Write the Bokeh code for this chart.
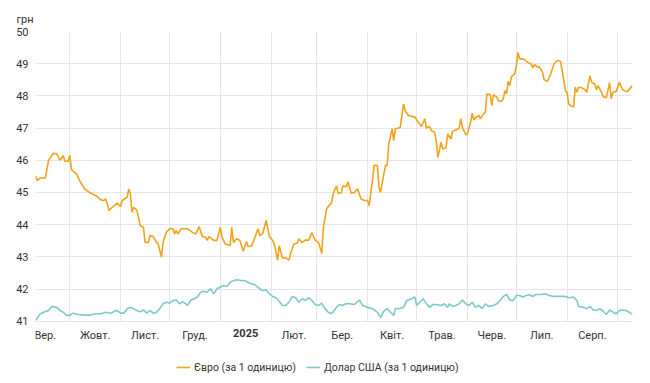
import pandas as pd
from bokeh.plotting import figure
from bokeh.models import Range1d, FixedTicker, Legend, LegendItem, LinearAxis
from bokeh.embed import file_html
from bokeh.resources import INLINE

# ---------------- data ----------------
eur_dates = [
    "2024-09-10", "2024-09-11", "2024-09-13", "2024-09-16", "2024-09-18", "2024-09-21", "2024-09-23",
    "2024-09-25", "2024-09-27", "2024-09-28", "2024-09-30", "2024-10-01", "2024-10-02", "2024-10-05",
    "2024-10-07", "2024-10-10", "2024-10-13", "2024-10-17", "2024-10-20", "2024-10-22", "2024-10-23",
    "2024-10-25", "2024-10-27", "2024-10-30", "2024-11-01", "2024-11-02", "2024-11-05", "2024-11-06",
    "2024-11-07", "2024-11-08", "2024-11-09", "2024-11-11", "2024-11-13", "2024-11-15", "2024-11-16",
    "2024-11-18", "2024-11-19", "2024-11-21", "2024-11-23", "2024-11-24", "2024-11-26", "2024-11-27",
    "2024-11-29", "2024-12-01", "2024-12-03", "2024-12-04", "2024-12-05", "2024-12-06", "2024-12-08",
    "2024-12-12", "2024-12-15", "2024-12-17", "2024-12-19", "2024-12-21", "2024-12-23", "2024-12-24",
    "2024-12-25", "2024-12-28", "2024-12-30", "2025-01-01", "2025-01-02", "2025-01-04", "2025-01-07",
    "2025-01-08", "2025-01-09", "2025-01-11", "2025-01-13", "2025-01-15", "2025-01-17", "2025-01-18",
    "2025-01-20", "2025-01-22", "2025-01-24", "2025-01-25", "2025-01-27", "2025-01-29", "2025-01-31",
    "2025-02-02", "2025-02-03", "2025-02-05", "2025-02-06", "2025-02-08", "2025-02-10", "2025-02-12",
    "2025-02-13", "2025-02-15", "2025-02-17", "2025-02-18", "2025-02-20", "2025-02-22", "2025-02-24",
    "2025-02-26", "2025-02-28", "2025-03-02", "2025-03-04", "2025-03-05", "2025-03-07", "2025-03-08",
    "2025-03-10", "2025-03-11", "2025-03-13", "2025-03-14", "2025-03-16", "2025-03-17", "2025-03-19",
    "2025-03-20", "2025-03-22", "2025-03-24", "2025-03-26", "2025-03-28", "2025-03-30", "2025-04-01",
    "2025-04-02", "2025-04-04", "2025-04-05", "2025-04-07", "2025-04-08", "2025-04-09", "2025-04-11",
    "2025-04-12", "2025-04-13", "2025-04-14", "2025-04-16", "2025-04-17", "2025-04-18", "2025-04-20",
    "2025-04-21", "2025-04-23", "2025-04-24", "2025-04-26", "2025-04-30", "2025-05-02", "2025-05-04",
    "2025-05-06", "2025-05-07", "2025-05-09", "2025-05-10", "2025-05-12", "2025-05-13", "2025-05-14",
    "2025-05-16", "2025-05-17", "2025-05-19", "2025-05-20", "2025-05-22", "2025-05-23", "2025-05-25",
    "2025-05-27", "2025-05-28", "2025-05-29", "2025-05-31", "2025-06-01", "2025-06-03", "2025-06-04",
    "2025-06-05", "2025-06-06", "2025-06-08", "2025-06-09", "2025-06-11", "2025-06-12", "2025-06-13",
    "2025-06-15", "2025-06-16", "2025-06-17", "2025-06-19", "2025-06-20", "2025-06-22", "2025-06-23",
    "2025-06-24", "2025-06-25", "2025-06-26", "2025-06-27", "2025-06-28", "2025-06-30", "2025-07-01",
    "2025-07-02", "2025-07-03", "2025-07-04", "2025-07-06", "2025-07-08", "2025-07-10", "2025-07-11",
    "2025-07-12", "2025-07-14", "2025-07-15", "2025-07-17", "2025-07-18", "2025-07-20", "2025-07-22",
    "2025-07-24", "2025-07-26", "2025-07-28", "2025-07-29", "2025-07-31", "2025-08-01", "2025-08-02",
    "2025-08-03", "2025-08-05", "2025-08-06", "2025-08-07", "2025-08-08", "2025-08-10", "2025-08-12",
    "2025-08-13", "2025-08-15", "2025-08-16", "2025-08-18", "2025-08-19", "2025-08-20", "2025-08-22",
    "2025-08-23", "2025-08-25", "2025-08-27", "2025-08-28", "2025-08-29", "2025-08-31", "2025-09-02",
    "2025-09-04", "2025-09-06", "2025-09-07", "2025-09-10",
]
eur_values = [
    45.52, 45.37, 45.45, 45.45, 46.00, 46.22, 46.20,
    46.00, 46.15, 45.97, 45.97, 46.15, 45.70, 45.58,
    45.37, 45.11, 45.00, 44.90, 44.77, 44.75, 44.80,
    44.44, 44.54, 44.67, 44.56, 44.75, 44.85, 45.11,
    44.96, 44.39, 44.54, 44.45, 43.97, 43.92, 43.45,
    43.45, 43.66, 43.63, 43.45, 43.40, 42.99, 43.45,
    43.76, 43.87, 43.87, 43.71, 43.82, 43.71, 43.87,
    43.87, 43.76, 43.71, 43.94, 43.63, 43.61, 43.51,
    43.63, 43.51, 43.51, 43.92, 43.61, 43.40, 43.35,
    43.92, 43.45, 43.56, 43.51, 43.17, 43.48, 43.32,
    43.33, 43.58, 43.87, 43.66, 43.73, 44.13, 43.63,
    43.51, 43.40, 42.89, 43.35, 42.96, 42.97, 42.90,
    43.11, 43.40, 43.43, 43.56, 43.45, 43.52, 43.52,
    43.75, 43.51, 43.45, 43.10, 43.90, 44.50, 44.56,
    44.68, 44.96, 45.20, 44.98, 44.99, 45.21, 45.18,
    45.33, 44.98, 45.00, 45.11, 44.80, 44.75, 44.75,
    44.59, 45.37, 45.84, 45.84, 45.16, 45.00, 45.58,
    45.84, 45.84, 46.51, 46.98, 46.61, 46.98, 47.00,
    47.02, 47.75, 47.54, 47.39, 47.34, 47.18, 47.05,
    47.29, 47.00, 47.05, 46.92, 46.87, 46.61, 46.09,
    46.56, 46.35, 46.39, 46.82, 46.66, 46.90, 46.94,
    47.00, 47.29, 47.02, 46.80, 46.80, 47.18, 47.46,
    47.25, 47.32, 47.39, 47.29, 47.44, 47.49, 48.06,
    48.04, 47.70, 48.04, 47.96, 47.85, 47.83, 47.91,
    48.16, 48.06, 48.45, 48.32, 48.60, 48.68, 48.94,
    49.35, 49.15, 49.15, 49.13, 49.04, 48.99, 48.87,
    48.97, 48.89, 48.91, 48.73, 48.50, 48.45, 48.68,
    48.99, 49.10, 49.07, 48.79, 48.16, 48.11, 47.75,
    47.70, 47.65, 48.27, 48.11, 48.27, 48.25, 48.19,
    48.11, 48.63, 48.42, 48.37, 48.19, 48.32, 48.11,
    47.98, 47.94, 48.42, 47.91, 48.11, 48.14, 48.42,
    48.19, 48.14, 48.14, 48.32,
]

usd_dates = [
    "2024-09-10", "2024-09-13", "2024-09-15", "2024-09-18", "2024-09-20", "2024-09-23", "2024-09-25",
    "2024-09-27", "2024-09-29", "2024-10-01", "2024-10-03", "2024-10-06", "2024-10-09", "2024-10-13",
    "2024-10-17", "2024-10-20", "2024-10-23", "2024-10-26", "2024-10-28", "2024-10-30", "2024-11-01",
    "2024-11-03", "2024-11-05", "2024-11-07", "2024-11-09", "2024-11-11", "2024-11-13", "2024-11-15",
    "2024-11-17", "2024-11-19", "2024-11-21", "2024-11-23", "2024-11-25", "2024-11-27", "2024-11-29",
    "2024-12-01", "2024-12-03", "2024-12-05", "2024-12-07", "2024-12-09", "2024-12-12", "2024-12-14",
    "2024-12-16", "2024-12-18", "2024-12-20", "2024-12-22", "2024-12-24", "2024-12-26", "2024-12-28",
    "2024-12-30", "2025-01-01", "2025-01-03", "2025-01-05", "2025-01-07", "2025-01-09", "2025-01-11",
    "2025-01-13", "2025-01-16", "2025-01-19", "2025-01-22", "2025-01-25", "2025-01-27", "2025-01-29",
    "2025-01-31", "2025-02-02", "2025-02-04", "2025-02-06", "2025-02-08", "2025-02-10", "2025-02-12",
    "2025-02-14", "2025-02-16", "2025-02-18", "2025-02-20", "2025-02-22", "2025-02-24", "2025-02-26",
    "2025-02-28", "2025-03-02", "2025-03-04", "2025-03-06", "2025-03-08", "2025-03-10", "2025-03-13",
    "2025-03-15", "2025-03-17", "2025-03-19", "2025-03-21", "2025-03-24", "2025-03-27", "2025-03-29",
    "2025-04-01", "2025-04-04", "2025-04-07", "2025-04-09", "2025-04-11", "2025-04-13", "2025-04-15",
    "2025-04-17", "2025-04-18", "2025-04-21", "2025-04-23", "2025-04-25", "2025-04-28", "2025-04-30",
    "2025-05-01", "2025-05-03", "2025-05-05", "2025-05-07", "2025-05-09", "2025-05-11", "2025-05-13",
    "2025-05-16", "2025-05-18", "2025-05-20", "2025-05-21", "2025-05-23", "2025-05-25", "2025-05-27",
    "2025-05-29", "2025-05-31", "2025-06-02", "2025-06-04", "2025-06-06", "2025-06-08", "2025-06-10",
    "2025-06-12", "2025-06-14", "2025-06-17", "2025-06-19", "2025-06-21", "2025-06-23", "2025-06-25",
    "2025-06-27", "2025-06-29", "2025-07-01", "2025-07-03", "2025-07-05", "2025-07-07", "2025-07-09",
    "2025-07-11", "2025-07-13", "2025-07-16", "2025-07-19", "2025-07-21", "2025-07-24", "2025-07-28",
    "2025-07-31", "2025-08-02", "2025-08-05", "2025-08-07", "2025-08-08", "2025-08-11", "2025-08-13",
    "2025-08-15", "2025-08-17", "2025-08-19", "2025-08-21", "2025-08-23", "2025-08-25", "2025-08-27",
    "2025-08-29", "2025-08-31", "2025-09-02", "2025-09-04", "2025-09-06", "2025-09-08", "2025-09-10",
]
usd_values = [
    41.02, 41.23, 41.28, 41.33, 41.46, 41.43, 41.33,
    41.28, 41.18, 41.18, 41.25, 41.21, 41.19, 41.19,
    41.23, 41.23, 41.28, 41.25, 41.30, 41.33, 41.25,
    41.25, 41.39, 41.43, 41.39, 41.33, 41.29, 41.35,
    41.25, 41.33, 41.25, 41.28, 41.39, 41.54, 41.59,
    41.56, 41.64, 41.66, 41.54, 41.61, 41.49, 41.66,
    41.70, 41.75, 41.90, 41.93, 41.90, 42.01, 41.85,
    42.01, 42.06, 42.11, 42.08, 42.21, 42.26, 42.29,
    42.27, 42.26, 42.18, 42.14, 42.01, 41.95, 41.98,
    41.85, 41.77, 41.73, 41.62, 41.49, 41.49, 41.59,
    41.77, 41.73, 41.59, 41.70, 41.64, 41.73, 41.64,
    41.52, 41.49, 41.56, 41.39, 41.28, 41.23, 41.43,
    41.52, 41.49, 41.55, 41.54, 41.52, 41.66, 41.49,
    41.43, 41.39, 41.28, 41.11, 41.31, 41.39, 41.28,
    41.18, 41.39, 41.40, 41.43, 41.64, 41.70, 41.75,
    41.49, 41.59, 41.70, 41.54, 41.43, 41.52, 41.52,
    41.49, 41.54, 41.43, 41.54, 41.46, 41.49, 41.54,
    41.66, 41.54, 41.49, 41.59, 41.43, 41.49, 41.39,
    41.54, 41.46, 41.49, 41.54, 41.64, 41.77, 41.83,
    41.66, 41.64, 41.80, 41.80, 41.75, 41.80, 41.82,
    41.77, 41.83, 41.83, 41.85, 41.80, 41.77, 41.77,
    41.77, 41.73, 41.75, 41.64, 41.46, 41.43, 41.39,
    41.46, 41.35, 41.33, 41.39, 41.31, 41.21, 41.35,
    41.28, 41.23, 41.33, 41.35, 41.33, 41.28, 41.21,
]

month_starts = [
    "2024-09-01", "2024-10-01", "2024-11-01", "2024-12-01", "2025-01-01", "2025-02-01", "2025-03-01",
    "2025-04-01", "2025-05-01", "2025-06-01", "2025-07-01", "2025-08-01", "2025-09-01",
]
month_labels = ["Вер.", "Жовт.", "Лист.", "Груд.", "2025", "Лют.", "Бер.", "Квіт.", "Трав.", "Черв.", "Лип.", "Серп."]
year_label = "2025"
y_ticks = [41, 42, 43, 44, 45, 46, 47, 48, 49, 50]
y_unit = "грн"
eur_name = "Євро (за 1 одиницю)"
usd_name = "Долар США (за 1 одиницю)"

# ---------------- helpers ----------------
def ms(d):
    return int(pd.Timestamp(d).value // 1_000_000)

EUR_COLOR = "#F2A31B"
USD_COLOR = "#80C8C6"
TEXT = "#333333"
GRID = "#E6E6E6"
FONT = "Roboto"
FS = "11px"
LEG_FS = "10.5px"

W, H = 650, 383
TOP, LEFT, RIGHT = 31, 35, 18
PX_PER_UNIT = 32.19           # vertical scale of the value axis
frame_h = H - TOP             # frame reaches the bottom so the legend can sit inside it
y_low = y_ticks[-1] - frame_h / PX_PER_UNIT

x_start = ms(eur_dates[0])
x_end = ms(eur_dates[-1])

p = figure(
    width=W, height=H,
    output_backend="svg", toolbar_location=None,
    x_range=Range1d(x_start, x_end), y_range=Range1d(y_low, y_ticks[-1]),
    min_border_left=LEFT, min_border_right=RIGHT, min_border_top=TOP, min_border_bottom=0,
)
p.background_fill_color = "white"
p.border_fill_color = "white"
p.outline_line_color = None

# unit label as the title (top-left, above the 50 tick label)
p.title.text = y_unit
p.title.align = "left"
p.title.offset = -19
p.title.standoff = 11
p.title.text_font = FONT
p.title.text_font_size = FS
p.title.text_font_style = "normal"
p.title.text_color = TEXT

starts_ms = [ms(d) for d in month_starts]

# grids (limited to the value band 41..50)
p.ygrid.ticker = FixedTicker(ticks=y_ticks)
p.ygrid.grid_line_color = GRID
p.xgrid.ticker = FixedTicker(ticks=starts_ms[1:])
p.xgrid.grid_line_color = GRID
try:
    p.xgrid.cross_bounds = (y_ticks[0], y_ticks[-1])
except Exception:
    p.xgrid.visible = False
    p.segment(x0=starts_ms[1:], x1=starts_ms[1:],
              y0=[y_ticks[0]] * len(starts_ms[1:]), y1=[y_ticks[-1]] * len(starts_ms[1:]),
              line_color=GRID, line_width=1, level="underlay")

eur_x = [ms(d) for d in eur_dates]
usd_x = [ms(d) for d in usd_dates]
r_eur = p.line(eur_x, eur_values, line_color=EUR_COLOR, line_width=1.6)
r_usd = p.line(usd_x, usd_values, line_color=USD_COLOR, line_width=1.6)

def style_axis(ax, standoff):
    ax.axis_line_color = None
    ax.major_tick_line_color = None
    ax.minor_tick_line_color = None
    ax.major_tick_in = 0
    ax.major_tick_out = 0
    ax.minor_tick_in = 0
    ax.minor_tick_out = 0
    ax.major_label_standoff = standoff
    ax.major_label_text_font = FONT
    ax.major_label_text_font_size = FS
    ax.major_label_text_color = TEXT

# x axis: month labels centred in each month, placed on the 41 line
mids = [(starts_ms[i] + starts_ms[i + 1]) // 2 for i in range(len(month_labels))]
xa = p.xaxis[0]
xa.ticker = FixedTicker(ticks=mids)
xa.major_label_overrides = {m: ("" if lab == year_label else lab) for m, lab in zip(mids, month_labels)}
xa.fixed_location = y_ticks[0]
style_axis(xa, 8)

# second x axis carrying only the bold year label, on the same row
year_mid = [m for m, lab in zip(mids, month_labels) if lab == year_label]
xb = LinearAxis(ticker=FixedTicker(ticks=year_mid),
                major_label_overrides={year_mid[0]: year_label},
                fixed_location=y_ticks[0])
style_axis(xb, 8)
xb.major_label_text_font_style = "bold"
p.add_layout(xb, "below")

ya = p.yaxis[0]
ya.ticker = FixedTicker(ticks=y_ticks)
style_axis(ya, 7)

legend = Legend(items=[LegendItem(label=eur_name, renderers=[r_eur]),
                       LegendItem(label=usd_name, renderers=[r_usd])],
                orientation="horizontal", location=(141, 9),
                border_line_color=None, background_fill_alpha=0,
                label_text_font=FONT, label_text_font_size=LEG_FS, label_text_color=TEXT,
                glyph_width=14, glyph_height=14, label_standoff=4, spacing=10,
                padding=0, margin=0)
p.add_layout(legend, "center")

open("out.html", "w").write(file_html(p, INLINE))
